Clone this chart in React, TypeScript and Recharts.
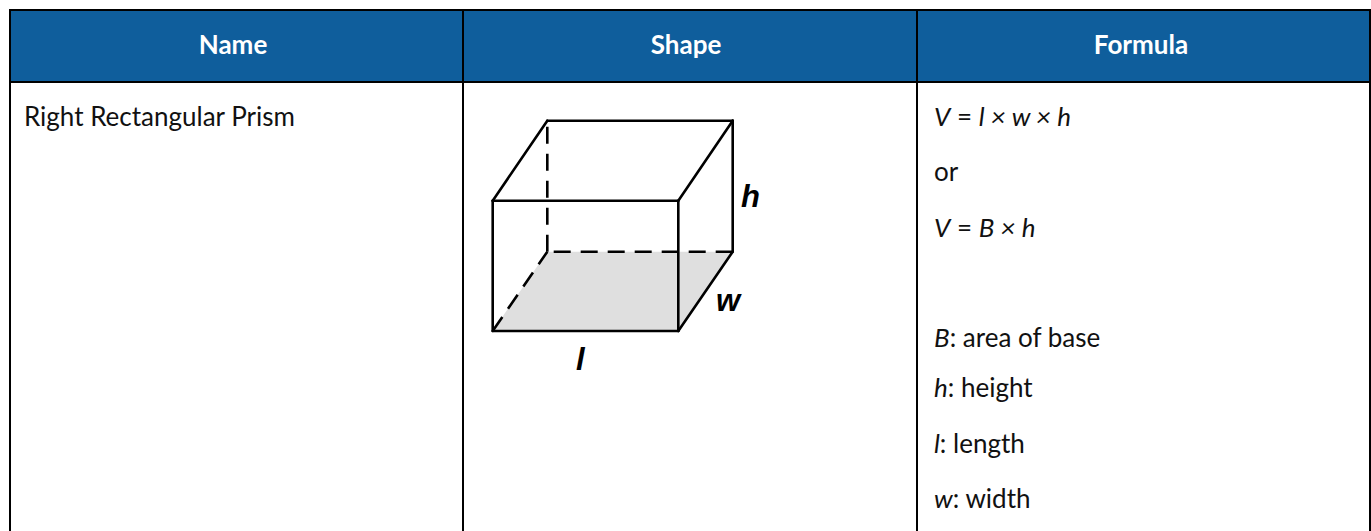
import React from "react";
import { ComposedChart, Area, XAxis, YAxis, ReferenceLine, ReferenceArea, ReferenceDot } from "recharts";

const WIDTH = 1371;
const HEIGHT = 531;
const BLUE = "#0F5E9C";
const INK = "#111111";
const BODY_FONT = "Lato, 'Open Sans', sans-serif";

type Pt = [number, number];
type Run = { t: string; i?: boolean };

// table grid (x/y in page pixels, the axes are 1:1)
const tableLeft = 10;
const tableRight = 1370;
const tableTop = 10;
const headerBottom = 82;
const tableBottom = 531;
const columnRules = [463, 917];

const headers = [
  { label: "Name", x: 233 },
  { label: "Shape", x: 686 },
  { label: "Formula", x: 1141 },
];

// prism corners
const ftl: Pt = [492.7, 200.7];
const ftr: Pt = [678.3, 200.7];
const fbl: Pt = [492.7, 331];
const fbr: Pt = [678.3, 331];
const btl: Pt = [547.3, 120.7];
const btr: Pt = [732.7, 120.7];
const bbl: Pt = [547.3, 251.7];
const bbr: Pt = [732.7, 251.7];

const solidEdges: [Pt, Pt][] = [
  [ftl, ftr], [ftr, fbr], [fbr, fbl], [fbl, ftl],
  [btl, btr], [btr, bbr], [ftl, btl], [ftr, btr], [fbr, bbr],
];
// dash pattern runs from the first corner
const dashedEdges: [Pt, Pt][] = [
  [bbl, btl], [bbr, bbl], [fbl, bbl],
];

// shaded base of the prism, as a range area
const floorX = [492.7, 547.3, 678.3, 732.7];
const floorTop = [331, 251.7, 251.7, 251.7];
const floorBottom = [331, 331, 331, 251.7];
const floorData = floorX.map((x, i) => ({ x, range: [floorTop[i], floorBottom[i]] }));

const edgeLabels = [
  { label: "h", x: 741, y: 207 },
  { label: "w", x: 716, y: 311 },
  { label: "l", x: 576, y: 370 },
];

const nameRow = { x: 24, y: 126, runs: [{ t: "Right Rectangular Prism" }] as Run[] };

const formulaRows: { x: number; y: number; runs: Run[] }[] = [
  { x: 934, y: 126, runs: [{ t: "V", i: true }, { t: " = " }, { t: "l × w × h", i: true }] },
  { x: 934, y: 181, runs: [{ t: "or" }] },
  { x: 934, y: 237, runs: [{ t: "V", i: true }, { t: " = " }, { t: "B × h", i: true }] },
  { x: 934, y: 347, runs: [{ t: "B", i: true }, { t: ": area of base" }] },
  { x: 934, y: 397, runs: [{ t: "h", i: true }, { t: ": height" }] },
  { x: 934, y: 453, runs: [{ t: "l", i: true }, { t: ": length" }] },
  { x: 934, y: 508, runs: [{ t: "w", i: true }, { t: ": width" }] },
];

const rowShape = (runs: Run[]) => (p: any) => (
  <text x={p.cx} y={p.cy} fontFamily={BODY_FONT} fontSize={26} fill={INK} xmlSpace="preserve">
    {runs.map((r, i) => (
      <tspan key={i} fontStyle={r.i ? "italic" : "normal"}>{r.t}</tspan>
    ))}
  </text>
);

export default function App() {
  return (
    <div style={{ position: "absolute", left: 0, top: 0, width: WIDTH, height: HEIGHT, overflow: "hidden", background: "#fff" }}>
      <ComposedChart width={WIDTH} height={HEIGHT} data={floorData} margin={{ top: 0, right: 0, bottom: 0, left: 0 }}>
        <XAxis dataKey="x" type="number" domain={[0, WIDTH]} hide allowDataOverflow />
        <YAxis type="number" domain={[0, HEIGHT]} reversed hide allowDataOverflow />

        <ReferenceArea x1={tableLeft} x2={tableRight} y1={tableTop} y2={headerBottom} fill={BLUE} fillOpacity={1} stroke="none" />
        <Area dataKey="range" type="linear" fill="#DFDFDF" fillOpacity={1} stroke="none" dot={false} activeDot={false} isAnimationActive={false} />

        {/* table rules */}
        <ReferenceLine segment={[{ x: tableLeft - 1, y: tableTop }, { x: tableRight + 1, y: tableTop }]} stroke="#000" strokeWidth={2} />
        <ReferenceLine segment={[{ x: tableLeft - 1, y: headerBottom }, { x: tableRight + 1, y: headerBottom }]} stroke="#000" strokeWidth={2} />
        {[tableLeft, ...columnRules, tableRight].map((x) => (
          <ReferenceLine key={x} segment={[{ x, y: tableTop }, { x, y: tableBottom }]} stroke="#000" strokeWidth={2} />
        ))}

        {/* prism */}
        {solidEdges.map(([a, b], i) => (
          <ReferenceLine key={"s" + i} segment={[{ x: a[0], y: a[1] }, { x: b[0], y: b[1] }]} stroke="#000" strokeWidth={2.6} strokeLinecap="round" />
        ))}
        {dashedEdges.map(([a, b], i) => (
          <ReferenceLine key={"d" + i} segment={[{ x: a[0], y: a[1] }, { x: b[0], y: b[1] }]} stroke="#000" strokeWidth={2.6} strokeDasharray="17 10" />
        ))}

        {/* text */}
        {headers.map((h) => (
          <ReferenceDot
            key={h.label}
            x={h.x}
            y={54}
            r={0}
            shape={(p: any) => (
              <text x={p.cx} y={p.cy} textAnchor="middle" fontFamily={BODY_FONT} fontWeight={700} fontSize={26} fill="#fff">
                {h.label}
              </text>
            )}
          />
        ))}
        {edgeLabels.map((l) => (
          <ReferenceDot
            key={l.label}
            x={l.x}
            y={l.y}
            r={0}
            shape={(p: any) => (
              <text x={p.cx} y={p.cy} fontFamily="'Liberation Sans', Arial, sans-serif" fontWeight={700} fontStyle="italic" fontSize={31} fill="#000">
                {l.label}
              </text>
            )}
          />
        ))}
        {[nameRow, ...formulaRows].map((r, i) => (
          <ReferenceDot key={"t" + i} x={r.x} y={r.y} r={0} shape={rowShape(r.runs)} />
        ))}
      </ComposedChart>
    </div>
  );
}
